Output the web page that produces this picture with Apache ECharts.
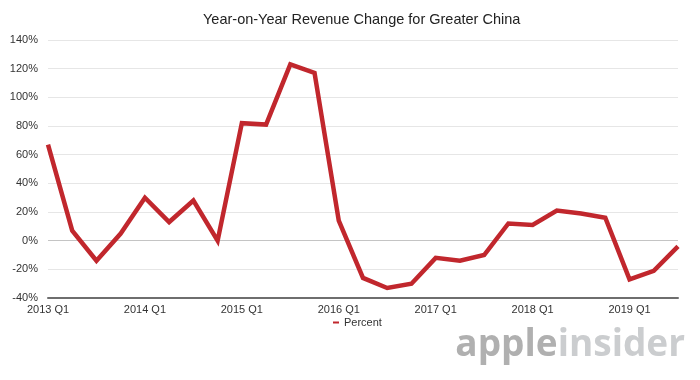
<!DOCTYPE html>
<html><head><meta charset="utf-8">
<script src="https://cdn.jsdelivr.net/npm/echarts@6/dist/echarts.min.js"></script>
<style>html,body{margin:0;padding:0;background:#fff}#c{width:700px;height:380px}</style>
</head><body><div id="c"></div>
<script>
var categories = [
  "2013 Q1","2013 Q2","2013 Q3","2013 Q4",
  "2014 Q1","2014 Q2","2014 Q3","2014 Q4",
  "2015 Q1","2015 Q2","2015 Q3","2015 Q4",
  "2016 Q1","2016 Q2","2016 Q3","2016 Q4",
  "2017 Q1","2017 Q2","2017 Q3","2017 Q4",
  "2018 Q1","2018 Q2","2018 Q3","2018 Q4",
  "2019 Q1","2019 Q2","2019 Q3"
];
var percent = [67, 7, -14, 5, 30, 13, 28, 0, 82, 81, 123, 117, 14, -26, -33, -30, -12, -14, -10, 12, 11, 21, 19, 16, -27, -21, -4];
var yTicks = { min: -40, max: 140, interval: 20 };
var titleText = "Year-on-Year Revenue Change for Greater China";
var seriesName = "Percent";

var font = "'Liberation Sans', Arial, Helvetica, sans-serif";
var chart = echarts.init(document.getElementById('c'));
chart.setOption({
  animation: false,
  backgroundColor: '#ffffff',
  title: {
    text: titleText, left: 198, top: 7,
    textStyle: { fontFamily: font, fontSize: 14.5, fontWeight: 'normal', color: '#222' }
  },
  legend: {
    data: [seriesName], bottom: 47, left: 328,
    icon: 'rect', itemWidth: 6, itemHeight: 2, itemGap: 6,
    textStyle: { fontFamily: font, fontSize: 11, color: '#333' }
  },
  grid: { left: 48, right: 22, top: 40, bottom: 82 },
  xAxis: {
    type: 'category', data: categories, boundaryGap: false,
    axisLine: { onZero: false, lineStyle: { color: '#6e6e6e', width: 2 } },
    axisTick: { show: false },
    axisLabel: { interval: 3, margin: 6, fontFamily: font, fontSize: 11, color: '#333' },
    splitLine: { show: false }
  },
  yAxis: {
    type: 'value', min: yTicks.min, max: yTicks.max, interval: yTicks.interval,
    axisLine: { show: false }, axisTick: { show: false },
    axisLabel: { formatter: '{value}%', margin: 10, fontFamily: font, fontSize: 11, color: '#333' },
    splitLine: { lineStyle: { color: ['#e6e6e6', '#e6e6e6', '#c4c4c4', '#e6e6e6', '#e6e6e6', '#e6e6e6', '#e6e6e6', '#e6e6e6', '#e6e6e6', '#e6e6e6'], width: 1 } }
  },
  series: [{
    name: seriesName, type: 'line', data: percent,
    symbol: 'none', smooth: false,
    lineStyle: { color: '#c1272d', width: 4.5, join: 'miter' },
    itemStyle: { color: '#c1272d' }
  }],
  graphic: [{
    type: 'text', right: 15, top: 327,
    style: {
      rich: {
        a: { fontFamily: "'Open Sans', 'DejaVu Sans', sans-serif", fontSize: 37, fontWeight: 'bold', fill: '#b0b0b0' },
        b: { fontFamily: "'Open Sans', 'DejaVu Sans', sans-serif", fontSize: 37, fontWeight: 'bold', fill: '#cbcdcf' }
      },
      text: '{a|apple}{b|insider}'
    }
  }]
});
</script></body></html>
